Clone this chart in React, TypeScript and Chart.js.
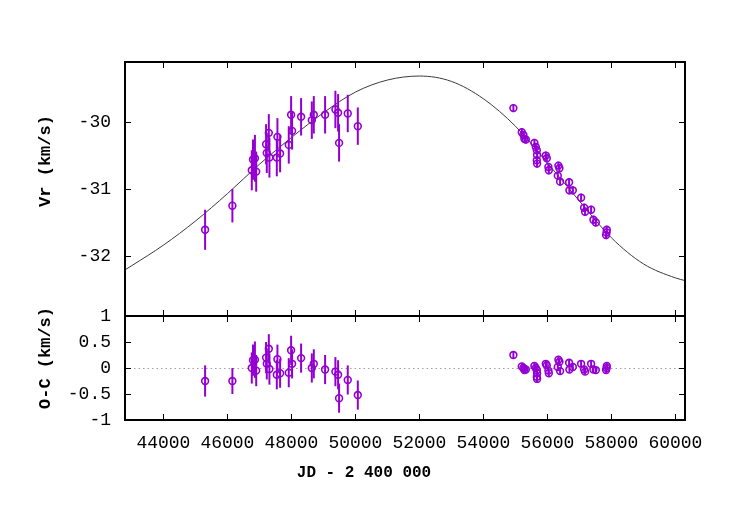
import React, { useEffect, useRef } from 'react';
import { Chart, registerables } from 'chart.js';
Chart.register(...registerables);

// ---------- data ----------
// early (photographic / CORAVEL era) measurements
const jdEarly = [45303, 46156, 46762, 46800, 46860, 46900, 47209, 47231, 47294, 47313, 47563, 47544, 47647, 47918, 47991, 48022, 48303, 48638, 48700, 49053, 49375, 49459, 49490, 49761, 50075];
const vrEarly = [-31.61, -31.25, -30.72, -30.56, -30.54, -30.74, -30.33, -30.46, -30.16, -30.53, -30.22, -30.53, -30.47, -30.34, -29.89, -30.13, -29.92, -29.97, -29.89, -29.89, -29.81, -29.86, -30.31, -29.87, -30.06];
const ocEarly = [-0.25, -0.25, 0.0, 0.15, 0.16, -0.05, 0.20, 0.08, 0.37, -0.02, 0.17, -0.13, -0.10, -0.09, 0.34, 0.08, 0.19, 0.0, 0.08, -0.03, -0.07, -0.13, -0.58, -0.23, -0.52];
const errEarly = [0.30, 0.25, 0.30, 0.30, 0.35, 0.30, 0.30, 0.30, 0.28, 0.30, 0.28, 0.28, 0.28, 0.28, 0.28, 0.28, 0.28, 0.28, 0.28, 0.28, 0.28, 0.28, 0.28, 0.28, 0.28];

// recent high-precision measurements
const jdRecent = [54937, 55200, 55250, 55281, 55325, 55594, 55637, 55669, 55678, 55669, 55678, 55950, 55981, 56031, 56044, 56344, 56375, 56325, 56397, 56678, 56688, 56794, 57053, 57147, 57178, 57366, 57438, 57513, 57856, 57834, 57850];
const vrRecent = [-29.79, -30.15, -30.19, -30.25, -30.26, -30.31, -30.37, -30.42, -30.49, -30.57, -30.62, -30.50, -30.54, -30.67, -30.72, -30.65, -30.69, -30.80, -30.89, -30.90, -31.02, -31.02, -31.13, -31.28, -31.34, -31.31, -31.46, -31.50, -31.61, -31.69, -31.65];
const ocRecent = [0.25, 0.03, 0.0, -0.04, -0.03, 0.04, 0.0, -0.04, -0.10, -0.17, -0.21, 0.08, 0.05, -0.05, -0.10, 0.16, 0.12, 0.02, -0.06, 0.10, -0.03, 0.02, 0.08, -0.03, -0.07, 0.08, -0.03, -0.04, 0.04, -0.04, 0.0];
const errRecent = [0.06, 0.06, 0.06, 0.06, 0.06, 0.06, 0.06, 0.06, 0.06, 0.06, 0.06, 0.06, 0.06, 0.06, 0.06, 0.06, 0.06, 0.06, 0.06, 0.06, 0.06, 0.06, 0.06, 0.06, 0.06, 0.06, 0.06, 0.06, 0.06, 0.06, 0.06];

// orbital solution curve
const modelJd = [42800, 43000, 44000, 45000, 46000, 47000, 48000, 49000, 50000, 51000, 52000, 53000, 54000, 55000, 56000, 57000, 58000, 59000, 60000, 60300];
const modelVr = [-32.21, -32.15, -31.84, -31.48, -31.07, -30.63, -30.23, -29.86, -29.55, -29.37, -29.31, -29.39, -29.65, -30.06, -30.61, -31.18, -31.73, -32.12, -32.33, -32.37];

const xTicks = [44000, 46000, 48000, 50000, 52000, 54000, 56000, 58000, 60000];
const vrTicks = [-32, -31, -30];
const ocTicks = [-1, -0.5, 0, 0.5, 1];

const xMin = 42800, xMax = 60300;
const vrMin = -32.9, vrMax = -29.1;
const ocMin = -1, ocMax = 1;

const xTitle = 'JD - 2 400 000';
const vrTitle = 'Vr (km/s)';
const ocTitle = 'O-C (km/s)';

// ---------- style ----------
const PURPLE = '#9400d3';
const FONT = '"Liberation Mono", "DejaVu Sans Mono", monospace';

const pts = (xs: number[], ys: number[]) => xs.map((x, i) => ({ x, y: ys[i] }));

function framePlugin(opts: { zero?: boolean; titles: { text: string; x: number; y: number; rot: boolean; size: number }[] }) {
  return {
    id: 'frame',
    beforeDatasetsDraw(chart: any) {
      if (!opts.zero) return;
      const { ctx, chartArea } = chart;
      const y = Math.round(chart.scales.y.getPixelForValue(0)) + 0.5;
      ctx.save();
      ctx.strokeStyle = '#a0a0a0';
      ctx.lineWidth = 1;
      ctx.setLineDash([1.5, 3]);
      ctx.beginPath();
      ctx.moveTo(chartArea.left, y);
      ctx.lineTo(chartArea.right, y);
      ctx.stroke();
      ctx.restore();
    },
    afterDatasetsDraw(chart: any) {
      const { ctx } = chart;
      const ys = chart.scales.y;
      chart.data.datasets.forEach((ds: any, i: number) => {
        if (!ds.errs) return;
        const meta = chart.getDatasetMeta(i);
        ctx.save();
        ctx.strokeStyle = PURPLE;
        ctx.lineWidth = 2;
        meta.data.forEach((el: any, j: number) => {
          const v = ds.data[j].y;
          const e = ds.errs[j];
          ctx.beginPath();
          ctx.moveTo(el.x, ys.getPixelForValue(v - e));
          ctx.lineTo(el.x, ys.getPixelForValue(v + e));
          ctx.stroke();
        });
        ctx.restore();
      });
    },
    afterDraw(chart: any) {
      const { ctx, chartArea } = chart;
      const { left, right, top, bottom } = chartArea;
      const xs = chart.scales.x;
      const ys = chart.scales.y;
      const yt: number[] = chart.options.scales.y.tickValues;
      ctx.save();
      ctx.strokeStyle = '#000';
      ctx.lineWidth = 1;
      const L = 6;
      ctx.beginPath();
      xTicks.forEach((v) => {
        const px = Math.round(xs.getPixelForValue(v)) + 0.5;
        ctx.moveTo(px, top); ctx.lineTo(px, top + L);
        ctx.moveTo(px, bottom); ctx.lineTo(px, bottom - L);
      });
      yt.forEach((v) => {
        const py = Math.round(ys.getPixelForValue(v)) + 0.5;
        ctx.moveTo(left, py); ctx.lineTo(left + L, py);
        ctx.moveTo(right, py); ctx.lineTo(right - L, py);
      });
      ctx.stroke();
      ctx.lineWidth = 2;
      ctx.strokeRect(left, top, right - left, bottom - top);
      ctx.fillStyle = '#000';
      ctx.textAlign = 'center';
      ctx.textBaseline = 'middle';
      opts.titles.forEach((t) => {
        ctx.save();
        ctx.font = `bold ${t.size}px ${FONT}`;
        ctx.translate(t.x, t.y);
        if (t.rot) ctx.rotate(-Math.PI / 2);
        ctx.fillText(t.text, 0, 0);
        ctx.restore();
      });
      ctx.restore();
    },
  };
}

function makeConfig(panel: 'top' | 'bottom'): any {
  const isTop = panel === 'top';
  const yMin = isTop ? vrMin : ocMin;
  const yMax = isTop ? vrMax : ocMax;
  const yTicks = isTop ? vrTicks : ocTicks;
  const datasets: any[] = [
    {
      type: 'scatter',
      data: pts(jdEarly, isTop ? vrEarly : ocEarly),
      errs: errEarly,
      borderColor: PURPLE,
      backgroundColor: 'rgba(0,0,0,0)',
      pointRadius: 3.4,
      pointBorderWidth: 1.6,
      showLine: false,
    },
    {
      type: 'scatter',
      data: pts(jdRecent, isTop ? vrRecent : ocRecent),
      errs: errRecent,
      borderColor: PURPLE,
      backgroundColor: 'rgba(0,0,0,0)',
      pointRadius: 3.4,
      pointBorderWidth: 1.6,
      showLine: false,
    },
  ];
  if (isTop) {
    datasets.push({
      type: 'line',
      data: pts(modelJd, modelVr),
      borderColor: '#3a3a3a',
      borderWidth: 1,
      pointRadius: 0,
      cubicInterpolationMode: 'monotone',
      fill: false,
    });
  }
  return {
    type: 'scatter',
    data: { datasets },
    options: {
      responsive: false,
      animation: false,
      events: [],
      layout: { padding: { top: isTop ? 62 : 316, right: 65, bottom: isTop ? 209 : 0, left: 0 } },
      plugins: { legend: { display: false }, tooltip: { enabled: false } },
      scales: {
        x: {
          type: 'linear',
          min: xMin,
          max: xMax,
          display: !isTop,
          grid: { display: false, drawTicks: false },
          border: { display: false },
          afterBuildTicks: (s: any) => { s.ticks = xTicks.map((value) => ({ value })); },
          afterFit: (s: any) => { s.height = isTop ? 0 : 105; },
          ticks: {
            font: { family: FONT, size: 18 },
            color: '#000',
            padding: 12,
            maxRotation: 0,
            autoSkip: false,
            callback: (v: number) => String(v),
          },
        },
        y: {
          type: 'linear',
          min: yMin,
          max: yMax,
          tickValues: yTicks,
          grid: { display: false, drawTicks: false },
          border: { display: false },
          afterBuildTicks: (s: any) => { s.ticks = yTicks.map((value) => ({ value })); },
          afterFit: (s: any) => { s.width = 125; },
          ticks: {
            font: { family: FONT, size: 18 },
            color: '#000',
            padding: 14,
            autoSkip: false,
            callback: (v: number) => String(v),
          },
        },
      },
    },
    plugins: [
      framePlugin(
        isTop
          ? { titles: [{ text: vrTitle, x: 46, y: 161, rot: true, size: 17 }] }
          : {
              zero: true,
              titles: [
                { text: ocTitle, x: 46, y: 358, rot: true, size: 17 },
                { text: xTitle, x: 364, y: 473, rot: false, size: 16 },
              ],
            }
      ),
    ],
  };
}

export default function App() {
  const topRef = useRef<HTMLCanvasElement>(null);
  const botRef = useRef<HTMLCanvasElement>(null);
  useEffect(() => {
    const a = new Chart(topRef.current as HTMLCanvasElement, makeConfig('top'));
    const b = new Chart(botRef.current as HTMLCanvasElement, makeConfig('bottom'));
    return () => { a.destroy(); b.destroy(); };
  }, []);
  const cs: React.CSSProperties = { position: 'absolute', left: 0, top: 0, width: 750, height: 525 };
  return (
    <div style={{ position: 'fixed', left: 0, top: 0, width: 750, height: 525, background: '#fff' }}>
      <canvas ref={topRef} width={750} height={525} style={cs} />
      <canvas ref={botRef} width={750} height={525} style={cs} />
    </div>
  );
}
